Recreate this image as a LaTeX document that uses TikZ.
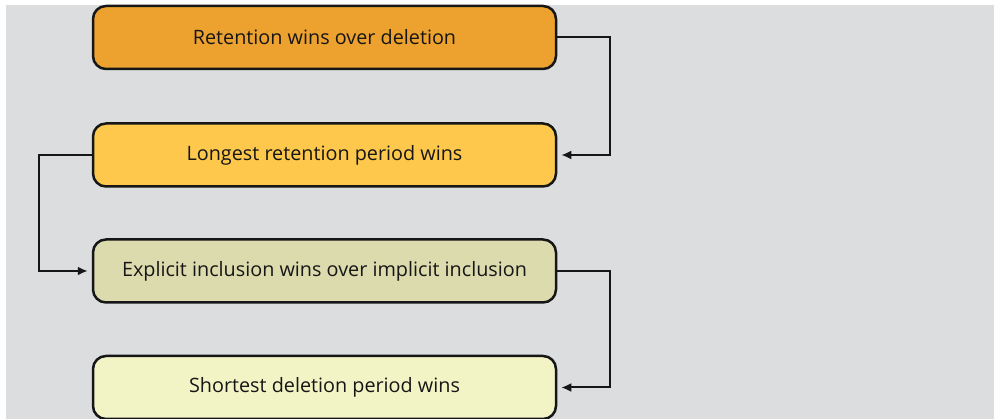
\documentclass[tikz,border=0pt]{standalone}
\usepackage{fontspec}
\setmainfont{Open Sans}
\usetikzlibrary{arrows.meta}

\definecolor{panelgray}{HTML}{DCDDDF}
\definecolor{ruleA}{HTML}{EDA22F}
\definecolor{ruleB}{HTML}{FEC84C}
\definecolor{ruleC}{HTML}{DCDBAE}
\definecolor{ruleD}{HTML}{F3F4C6}
\definecolor{inkblack}{HTML}{161616}

\tikzset{
	rulebox/.style={draw=inkblack, line width=2.5pt, rounded corners=13pt,
		minimum width=463pt, minimum height=63pt, text=inkblack,
		font=\fontsize{19.8}{22}\selectfont},
	flow/.style={draw=inkblack, line width=2pt, -{Latex[length=10pt,width=9pt]}, shorten >=4pt}
}

\begin{document}
\begin{tikzpicture}[x=1pt, y=-1pt]
		\useasboundingbox (0,0) rectangle (994,419);
		\fill[panelgray] (6,5) rectangle (994,419);
		
		% the four precedence rules, top to bottom
		\node[rulebox, fill=ruleA] (retain)   at (324.5,37.5)  {Retention wins over deletion};
		\node[rulebox, fill=ruleB] (longest)  at (324.5,155)   {Longest retention period wins};
		\node[rulebox, fill=ruleC] (explicit) at (324.5,271)   {Explicit inclusion wins over implicit inclusion};
		\node[rulebox, fill=ruleD] (shortest) at (324.5,387.5) {Shortest deletion period wins};
		
		\draw[flow] (retain.east) -- ++(53,0) |- (longest.east);
		\draw[flow] (longest.west) -- ++(-53,0) |- (explicit.west);
		\draw[flow] (explicit.east) -- ++(53,0) |- (shortest.east);
		\end{tikzpicture}
\end{document}
